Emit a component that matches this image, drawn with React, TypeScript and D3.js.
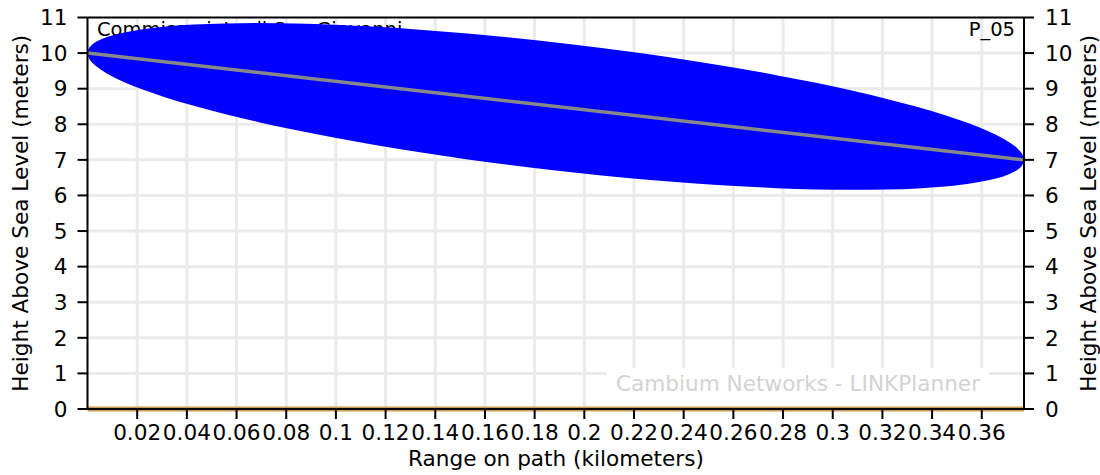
import React from "react";
import * as d3 from "d3";

const W = 1100;
const H = 475;

// Data
const pathRangeKm = [0, 0.377];
const pathHeightM = [10, 7];
const fresnelRadiusM = 1.8;
const terrainRangeKm = [0, 0.377];
const terrainHeightM = [0, 0];
const xTicks = [0.02, 0.04, 0.06, 0.08, 0.1, 0.12, 0.14, 0.16, 0.18, 0.2, 0.22, 0.24, 0.26, 0.28, 0.3, 0.32, 0.34, 0.36];
const yTicks = [0, 1, 2, 3, 4, 5, 6, 7, 8, 9, 10, 11];
const leftSiteLabel = "Commissariato di San Giovanni";
const rightSiteLabel = "P_05";
const xTitle = "Range on path (kilometers)";
const yTitle = "Height Above Sea Level (meters)";
const watermark = "Cambium Networks - LINKPlanner";

const FONT = "DejaVu Sans, sans-serif";
const FS = 21.6;

export default function App() {
  const left = 87.5, right = 1024, top = 17.5, bottom = 409;
  const x = d3.scaleLinear().domain([0, 0.377]).range([left, right]);
  const y = d3.scaleLinear().domain([0, 11]).range([bottom, top]);

  const x0 = x(pathRangeKm[0]), x1 = x(pathRangeKm[1]);
  const y0 = y(pathHeightM[0]), y1 = y(pathHeightM[1]);
  const cx = (x0 + x1) / 2, cy = (y0 + y1) / 2;
  const ux = (x1 - x0) / 2, uy = (y1 - y0) / 2;
  const vy = y(fresnelRadiusM) - y(0);

  const line = d3.line<number>().x((_, i) => x(pathRangeKm[i])).y((d) => y(d));
  const terrain = d3.line<number>().x((_, i) => x(terrainRangeKm[i])).y((d) => y(d));

  const fmt = (v: number) => String(v);

  return (
    <svg width={W} height={H} style={{ position: "absolute", left: 0, top: 0, background: "#fff" }} fontFamily={FONT}>
      <rect x={0} y={0} width={W} height={H} fill="#fff" />
      {/* grid */}
      <g stroke="#ebebeb" strokeWidth={3}>
        {xTicks.map((t) => (
          <line key={"gx" + t} x1={x(t)} x2={x(t)} y1={top} y2={bottom} />
        ))}
        {yTicks.slice(1, -1).map((t) => (
          <line key={"gy" + t} x1={left} x2={right} y1={y(t)} y2={y(t)} />
        ))}
      </g>
      {/* watermark */}
      <rect x={607} y={368} width={382} height={41} fill="#fff" />
      <text x={798} y={391} textAnchor="middle" fontSize={FS} fill="#d3d3d3">{watermark}</text>
      {/* site labels */}
      <text x={97} y={36} fontSize={19.5} fill="#000">{leftSiteLabel}</text>
      <text x={1015} y={36} fontSize={19.5} fill="#000" textAnchor="end">{rightSiteLabel}</text>
      {/* fresnel zone */}
      <ellipse cx={0} cy={0} rx={1} ry={1} fill="#0000ff" transform={`matrix(${ux},${uy},0,${vy},${cx},${cy})`} />
      {/* line of sight */}
      <path d={line(pathHeightM) || ""} stroke="#888888" strokeWidth={3.5} fill="none" />
      {/* terrain */}
      <path d={terrain(terrainHeightM) || ""} stroke="#cd9a55" strokeWidth={5} fill="none" />
      {/* spines */}
      <g stroke="#000" strokeWidth={2} fill="none">
        <line x1={left} x2={right} y1={top} y2={top} />
        <line x1={left} x2={right} y1={bottom} y2={bottom} />
        <line x1={left} x2={left} y1={top} y2={bottom} />
        <line x1={right} x2={right} y1={top} y2={bottom} />
      </g>
      {/* axes */}
      <g fontSize={FS} fill="#000">
        {yTicks.map((t) => (
          <g key={"ly" + t}>
            <line x1={left - 10} x2={left} y1={y(t)} y2={y(t)} stroke="#000" strokeWidth={2} />
            <text x={left - 20} y={y(t)} dy="0.36em" textAnchor="end">{fmt(t)}</text>
            <line x1={right} x2={right + 10} y1={y(t)} y2={y(t)} stroke="#000" strokeWidth={2} />
            <text x={right + 21} y={y(t)} dy="0.36em" textAnchor="start">{fmt(t)}</text>
          </g>
        ))}
        {xTicks.map((t) => (
          <g key={"lx" + t}>
            <line x1={x(t)} x2={x(t)} y1={bottom} y2={bottom + 10} stroke="#000" strokeWidth={2} />
            <text x={x(t)} y={440} textAnchor="middle">{fmt(t)}</text>
          </g>
        ))}
        <text x={556} y={466} textAnchor="middle">{xTitle}</text>
        <text transform={`translate(28,${(top + bottom) / 2}) rotate(-90)`} textAnchor="middle">{yTitle}</text>
        <text transform={`translate(1096,${(top + bottom) / 2}) rotate(-90)`} textAnchor="middle">{yTitle}</text>
      </g>
    </svg>
  );
}
